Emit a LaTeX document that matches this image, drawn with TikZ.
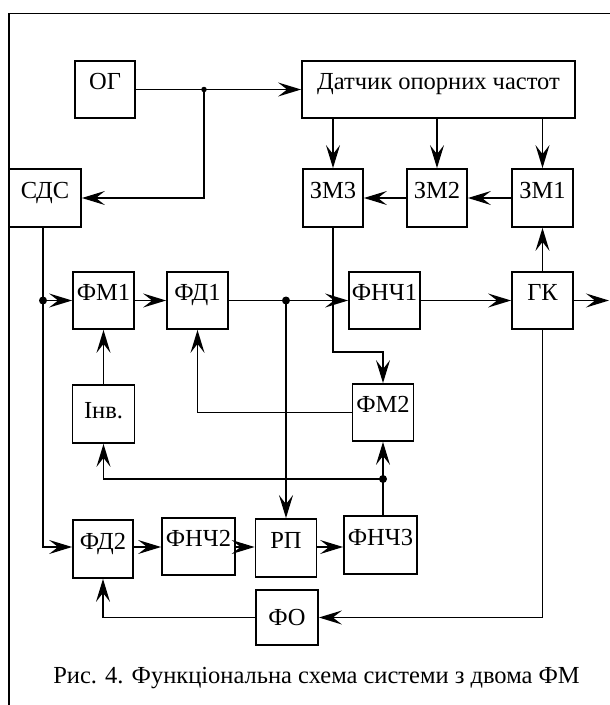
\documentclass[tikz,border=0pt]{standalone}
\usepackage{fontspec}
\setmainfont{Liberation Serif}
\usetikzlibrary{arrows.meta}
\begin{document}
\begin{tikzpicture}[x=1pt,y=-1pt,
  blk/.style={draw, line width=1.8pt, inner sep=0pt, font=\fontsize{24.5}{29}\selectfont, text height=9pt, text depth=9pt},
  conn/.style={line width=1.3pt},
  arr/.style={conn, -{Stealth[length=23pt,width=14pt,inset=9pt]}},
  dot/.style={circle, fill, inner sep=0pt, minimum size=#1},
  dot/.default=7pt,
  framel/.style={line width=1.5pt}]
\useasboundingbox (0,0) rectangle (610,705);
% frame
\draw[framel] (9,705) -- (9,13.5) -- (610,13.5);
% blocks
\node[blk, minimum width=60pt, minimum height=57pt] (og) at (105,89.5) {ОГ};
\node[blk, minimum width=273pt, minimum height=57pt] (dat) at (438.5,89.5) {Датчик опорних частот};
\node[blk, minimum width=72pt, minimum height=58pt] (sds) at (45,198) {СДС};
\node[blk, minimum width=60pt, minimum height=58pt] (zm3) at (333,198) {ЗМ3};
\node[blk, minimum width=60pt, minimum height=58pt] (zm2) at (437,198) {ЗМ2};
\node[blk, minimum width=61pt, minimum height=58pt] (zm1) at (542.5,198) {ЗМ1};
\node[blk, minimum width=61pt, minimum height=57pt] (fm1) at (103.5,300.5) {ФМ1};
\node[blk, minimum width=61pt, minimum height=57pt] (fd1) at (197.5,300.5) {ФД1};
\node[blk, minimum width=71pt, minimum height=57pt] (fnch1) at (384.5,300.5) {ФНЧ1};
\node[blk, minimum width=61pt, minimum height=57pt] (gk) at (542.5,300.5) {ГК};
\node[blk, minimum width=62pt, minimum height=58pt, text height=13pt, text depth=4pt] (inv) at (103.5,414) {Інв.};
\node[blk, minimum width=61pt, minimum height=57pt] (fm2) at (383,412.5) {ФМ2};
\node[blk, minimum width=60pt, minimum height=58pt] (fd2) at (103,549) {ФД2};
\node[blk, minimum width=73pt, minimum height=57pt] (fnch2) at (198.5,546.5) {ФНЧ2};
\node[blk, minimum width=61pt, minimum height=58pt] (rp) at (286,548) {РП};
\node[blk, minimum width=73pt, minimum height=58pt] (fnch3) at (380.5,545) {ФНЧ3};
\node[blk, minimum width=62pt, minimum height=55pt, text height=16.5pt, text depth=0pt] (fo) at (287,617.5) {ФО};
% junctions
\node[dot=5.5pt] (d1) at (204,89.5) {};
\node[dot=8pt] (d2) at (43,300.5) {};
\node[dot=8pt] (d3) at (286,300.5) {};
\node[dot=8pt] (d4) at (383,479) {};
\coordinate (row) at (0,547);
\coordinate (k1) at (383,352);
\coordinate (out) at (609,300.5);
% connectors
\draw[arr] (og) -- (dat);
\draw[arr] (d1.center) |- (sds);
\draw[arr] (dat.south -| zm3.north) -- (zm3.north);
\draw[arr] (dat.south -| zm2.north) -- (zm2.north);
\draw[arr] (dat.south -| zm1.north) -- (zm1.north);
\draw[arr] (zm1) -- (zm2);
\draw[arr] (zm2) -- (zm3);
\draw[arr] (gk) -- (zm1);
\draw[arr] (gk) -- (out);
\draw[arr] (sds.south -| d2.center) |- (fd2.west |- row);
\draw[arr] (d2.center) -- (fm1);
\draw[arr] (fm1) -- (fd1);
\draw[arr] (fd1) -- (fnch1);
\draw[arr] (fnch1) -- (gk);
\draw[arr, line width=2.2pt] (d3.center) -- (rp);
\draw[arr] (zm3) |- (k1) -- (fm2);
\draw[arr] (fm2.west) -| (fd1);
\draw[arr] (inv) -- (fm1);
\draw[arr] (fnch3.north -| fm2.south) -- (fm2);
\draw[arr] (d4.center) -| (inv);
\draw[arr] (fd2.east |- row) -- (fnch2.west |- row);
\draw[arr] (fnch2.east |- row) -- (rp.west |- row);
\draw[arr] (rp.east |- row) -- (fnch3.west |- row);
\draw[arr] (gk) |- (fo);
\draw[arr] (fo) -| (fd2);
% caption
\node[font=\fontsize{24.5}{29}\selectfont, anchor=base, inner sep=0pt] (cap) at (316.5,683) {Рис. 4. Функціональна схема системи з двома ФМ};
\end{tikzpicture}
\end{document}
